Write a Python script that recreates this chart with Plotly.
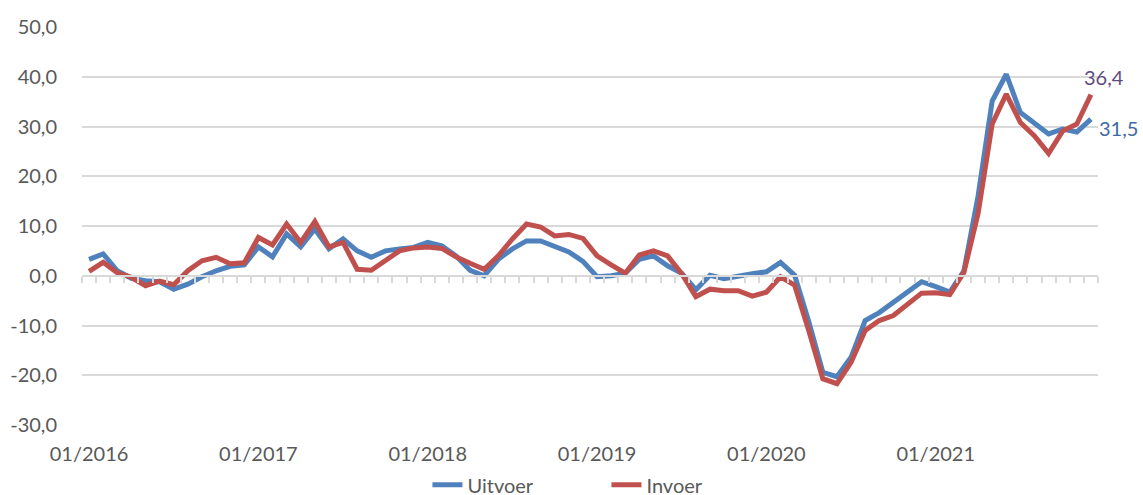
import plotly.graph_objects as go

years = [2016, 2017, 2018, 2019, 2020, 2021]
months = [f"{m:02d}/{y}" for y in years for m in range(1, 13)]
tick_labels = ["01/2016", "01/2017", "01/2018", "01/2019", "01/2020", "01/2021"]
y_ticks = [-30, -20, -10, 0, 10, 20, 30, 40, 50]

uitvoer = [
    3.3, 4.4, 1.0, -0.5, -1.0, -1.2, -2.7, -1.7, -0.2, 1.0, 1.9, 2.2,
    5.8, 3.8, 8.4, 5.8, 9.4, 5.4, 7.4, 5.0, 3.7, 5.0, 5.4, 5.7,
    6.7, 6.0, 4.0, 1.1, 0.0, 3.3, 5.4, 7.0, 7.0, 6.0, 4.8, 2.9,
    -0.2, 0.0, 0.5, 3.3, 4.0, 2.0, 0.5, -2.8, 0.1, -0.6, 0.0, 0.4,
    0.8, 2.7, 0.1, -9.2, -19.4, -20.3, -16.4, -9.0, -7.4, -5.4, -3.3, -1.2,
    -2.2, -3.3, 1.0, 16.0, 35.1, 40.5, 32.8, 30.5, 28.5, 29.5, 28.9, 31.5,
]
invoer = [
    0.9, 2.7, 0.6, -0.3, -2.0, -1.1, -1.8, 1.0, 3.0, 3.7, 2.4, 2.6,
    7.7, 6.2, 10.4, 6.7, 10.9, 5.8, 6.7, 1.3, 1.1, 3.0, 5.0, 5.6,
    5.8, 5.5, 3.8, 2.5, 1.3, 4.0, 7.4, 10.4, 9.8, 8.0, 8.3, 7.5,
    4.0, 2.2, 0.5, 4.2, 5.0, 4.0, 0.4, -4.2, -2.7, -3.0, -3.0, -4.1,
    -3.3, -0.2, -1.9, -11.0, -20.7, -21.7, -17.4, -11.0, -9.0, -8.0, -5.8, -3.5,
    -3.4, -3.8, 0.7, 12.5, 30.5, 36.5, 30.8, 28.1, 24.6, 29.1, 30.5, 36.4,
]

FONT = "Lato"
GREY = "#595959"
BLUE = "#4f81bd"
RED = "#c0504d"


def fmt(v):
    return f"{v:.1f}".replace(".", ",")


fig = go.Figure()
fig.add_trace(go.Scatter(x=months, y=uitvoer, name="Uitvoer", mode="lines",
                         line=dict(color=BLUE, width=5)))
fig.add_trace(go.Scatter(x=months, y=invoer, name="Invoer", mode="lines",
                         line=dict(color=RED, width=5)))
# empty helper trace so the tick axis on the zero line is drawn
fig.add_trace(go.Scatter(x=[], y=[], xaxis="x2", yaxis="y", showlegend=False,
                         hoverinfo="skip"))

fig.add_annotation(x=months[-1], y=invoer[-1], text=fmt(invoer[-1]),
                   showarrow=False, xanchor="left", yanchor="bottom",
                   xshift=-9, yshift=4, font=dict(family=FONT, size=20, color="#5f4b7d"))
fig.add_annotation(x=months[-1], y=uitvoer[-1], text=fmt(uitvoer[-1]),
                   showarrow=False, xanchor="left", yanchor="middle",
                   xshift=6, yshift=-9, font=dict(family=FONT, size=20, color="#3f69a5"))

fig.update_layout(
    width=1143, height=495,
    margin=dict(l=82, r=45, t=27, b=70, autoexpand=False),
    paper_bgcolor="white", plot_bgcolor="white",
    font=dict(family=FONT, size=20, color=GREY),
    showlegend=True,
    legend=dict(orientation="h", x=0.34, xanchor="left", y=-0.15, yanchor="middle",
                font=dict(family=FONT, size=20, color=GREY),
                entrywidth=134, entrywidthmode="pixels",
                traceorder="normal"),
    xaxis=dict(type="category", categoryarray=months, categoryorder="array",
               range=[-0.5, len(months) - 0.5], automargin=False,
               tickmode="array", tickvals=tick_labels, ticktext=tick_labels,
               showgrid=False, showline=False, ticks="", zeroline=False,
               ticklabelstandoff=15,
               tickfont=dict(family=FONT, size=20, color=GREY)),
    xaxis2=dict(overlaying="x", anchor="free", position=0.375, automargin=False,
                range=[-0.5, len(months) - 0.5], tick0=-0.5, dtick=1,
                showticklabels=False, showgrid=False, zeroline=False,
                showline=True, linecolor="#d9d9d9", linewidth=1.5,
                ticks="outside", ticklen=6, tickcolor="#d9d9d9", tickwidth=1.5),
    yaxis=dict(range=[-30, 50], automargin=False,
               tickmode="array", tickvals=y_ticks, ticktext=[fmt(v) for v in y_ticks],
               showgrid=True, gridcolor="#d9d9d9", gridwidth=1.5,
               zeroline=False, showline=False, ticks="",
               ticklabelstandoff=24,
               tickfont=dict(family=FONT, size=20, color=GREY)),
)

fig.write_html("out.html", config={"displayModeBar": False},
               post_script="document.body.style.margin='0';document.body.style.padding='0';")
